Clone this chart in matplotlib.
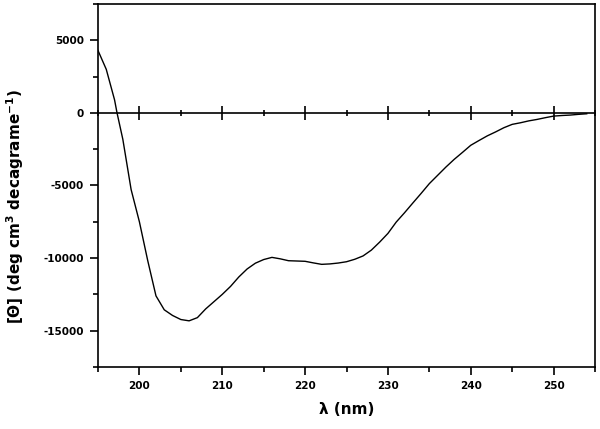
import matplotlib
matplotlib.use("Agg")
import matplotlib.pyplot as plt
from matplotlib.ticker import MultipleLocator

plt.rcParams['axes.unicode_minus'] = False

# CD spectrum
wavelength = [195, 196, 197, 197.3, 198, 199, 200, 201, 202, 203, 204, 205, 206,
              207, 208, 209, 210, 211, 212, 213, 214, 215, 216, 217, 218, 219,
              220, 221, 222, 223, 224, 225, 226, 227, 228, 229, 230, 231, 232,
              233, 234, 235, 236, 237, 238, 239, 240, 241, 242, 243, 244, 245,
              246, 247, 248, 249, 250, 251, 252, 253, 254]
theta = [4300, 3000, 900, 0, -1820, -5280, -7500, -10160, -12600, -13560, -13950,
         -14230, -14320, -14100, -13500, -13000, -12500, -11950, -11300, -10750,
         -10350, -10100, -9950, -10050, -10180, -10200, -10220, -10330, -10430,
         -10400, -10340, -10250, -10080, -9850, -9450, -8900, -8300, -7520, -6880,
         -6210, -5550, -4870, -4300, -3730, -3200, -2720, -2230, -1900, -1580,
         -1310, -1020, -790, -680, -550, -450, -330, -220, -180, -150, -100, -60]

fig = plt.figure(figsize=(6, 4.29), dpi=100)
ax = fig.add_axes([0.1633, 0.1445, 0.8284, 0.8462])

ax.plot(wavelength, theta, color='black', lw=1.0)

ax.set_xlim(195, 255)
ax.set_ylim(-17500, 7500)

ax.xaxis.set_major_locator(MultipleLocator(10))
ax.xaxis.set_minor_locator(MultipleLocator(5))
ax.yaxis.set_major_locator(MultipleLocator(5000))
ax.yaxis.set_minor_locator(MultipleLocator(2500))

for s in ax.spines.values():
    s.set_linewidth(1.2)

ax.tick_params(which='major', length=6, width=1.2, labelsize=7.5, pad=4)
ax.tick_params(which='minor', length=3.5, width=1.2)
for lab in ax.get_xticklabels() + ax.get_yticklabels():
    lab.set_fontweight('bold')

# zero line with crossing ticks
zero_pos = (0 - (-17500)) / 25000
sec = ax.secondary_xaxis(zero_pos)
for s in sec.spines.values():
    s.set_linewidth(1.2)
sec.xaxis.set_major_locator(MultipleLocator(10))
sec.xaxis.set_minor_locator(MultipleLocator(5))
sec.tick_params(which='both', labeltop=False, labelbottom=False)
sec.tick_params(which='major', direction='inout', length=10, width=1.2)
sec.tick_params(which='minor', direction='inout', length=5, width=1.2)

ax.set_xlabel('λ (nm)', fontsize=11, fontweight='bold', labelpad=8)
ax.set_ylabel('[Θ] (deg cm$^{\\mathbf{3}}$ decagrame$^{\\mathbf{-1}}$)', fontsize=11,
              fontweight='bold')
ax.yaxis.set_label_coords(-0.145, 0.443)

fig.savefig('out.png', dpi=100)
